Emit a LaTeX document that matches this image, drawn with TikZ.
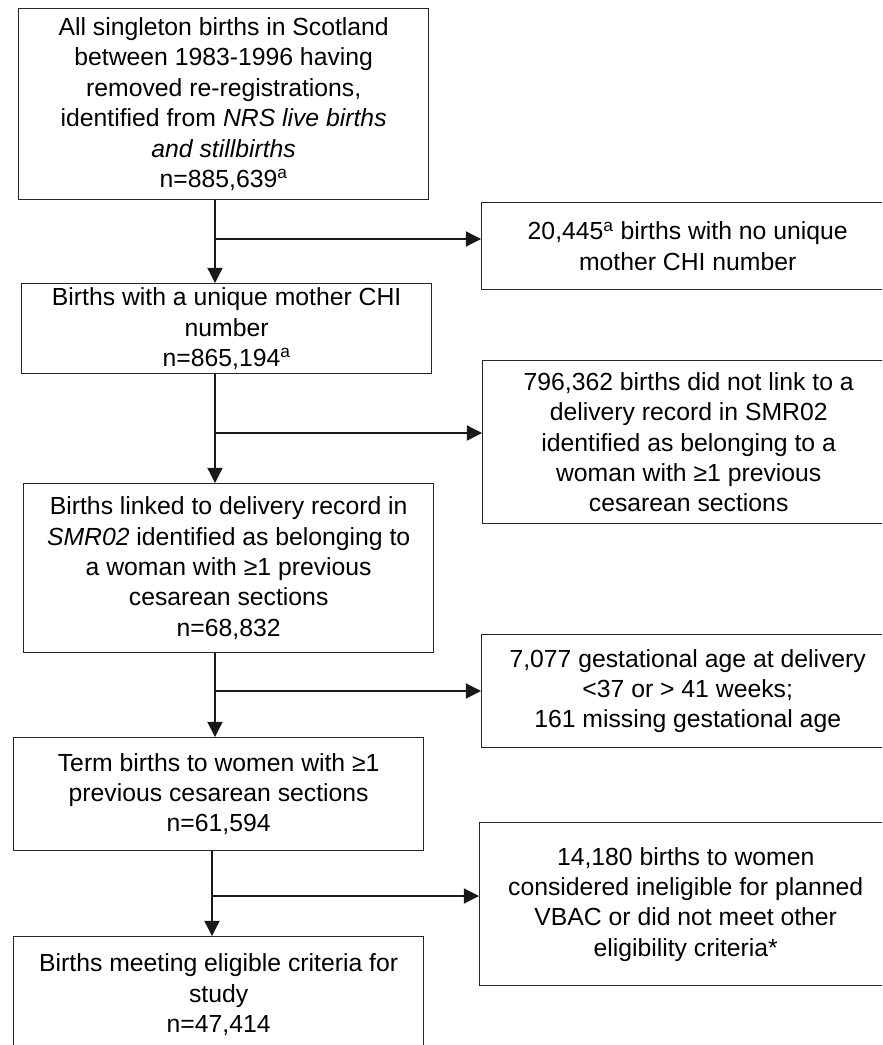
\documentclass[tikz,border=0pt]{standalone}
\usepackage{fontspec}
\setmainfont{Liberation Sans}
\usetikzlibrary{positioning}
\usetikzlibrary{arrows.meta}

\begin{document}
\begin{tikzpicture}[x=0.025cm, y=-0.025cm]
	\tikzset{
		mainbox/.style={rectangle, draw=black!85, line width=0.9pt, align=center, anchor=north west, minimum width=10.25cm, inner sep=2pt, font=\fontsize{17.6}{21.6}\selectfont},
		sidebox/.style={rectangle, draw=black!85, line width=0.9pt, align=center, anchor=north west, minimum width=10.3cm, inner sep=2pt, font=\fontsize{17.6}{21.6}\selectfont},
		flow/.style={-{Triangle[length=3.8mm, width=3.8mm]}, line width=0.9pt, black!90},
	}
	\useasboundingbox (0,0) rectangle (882,1045);
	\clip (0,0) rectangle (882,1045);

	\node[mainbox, minimum height=4.775cm] (all) at (18,8) {All singleton births in Scotland\\ between 1983-1996 having\\ removed re-registrations,\\ identified from \textit{NRS live births}\\ \textit{and stillbirths}\\ n=885,639\textsuperscript{a}};
	\node[mainbox, minimum height=2.25cm] (unique) at (21,283) {Births with a unique mother CHI\\ number\\ n=865,194\textsuperscript{a}};
	\node[mainbox, minimum height=4.225cm] (linked) at (23,483) {Births linked to delivery record in\\ \textit{SMR02} identified as belonging to\\ a woman with ≥1 previous\\ cesarean sections\\ n=68,832};
	\node[mainbox, minimum height=2.825cm] (term) at (13,737) {Term births to women with ≥1\\ previous cesarean sections\\ n=61,594};
	\node[mainbox, minimum height=2.9cm] (study) at (13,936) {Births meeting eligible criteria for\\ study\\ n=47,414};

	\node[sidebox, minimum height=2.175cm] (nochi) at (481,202) {20,445\textsuperscript{a} births with no unique\\ mother CHI number};
	\node[sidebox, minimum height=4.075cm] (nolink) at (482,360) {796,362 births did not link to a\\ delivery record in SMR02\\ identified as belonging to a\\ woman with ≥1 previous\\ cesarean sections};
	\node[sidebox, minimum height=2.825cm] (gest) at (481,634) {7,077 gestational age at delivery\\ <37 or > 41 weeks;\\ 161 missing gestational age};
	\node[sidebox, minimum height=4.075cm] (inelig) at (479,822) {14,180 births to women\\ considered ineligible for planned\\ VBAC or did not meet other\\ eligibility criteria*};

	\coordinate (s1) at (215,239);
	\coordinate (s2) at (215,433);
	\coordinate (s3) at (215,691);
	\coordinate (s4) at (212,896);

	\draw[flow] (all.south -| s1) -- (unique.north -| s1);
	\draw[flow] (s1) -- (s1 -| nochi.west);

	\draw[flow] (unique.south -| s2) -- (linked.north -| s2);
	\draw[flow] (s2) -- (s2 -| nolink.west);

	\draw[flow] (linked.south -| s3) -- (term.north -| s3);
	\draw[flow] (s3) -- (s3 -| gest.west);

	\draw[flow] (term.south -| s4) -- (study.north -| s4);
	\draw[flow] (s4) -- (s4 -| inelig.west);
\end{tikzpicture}
\end{document}
